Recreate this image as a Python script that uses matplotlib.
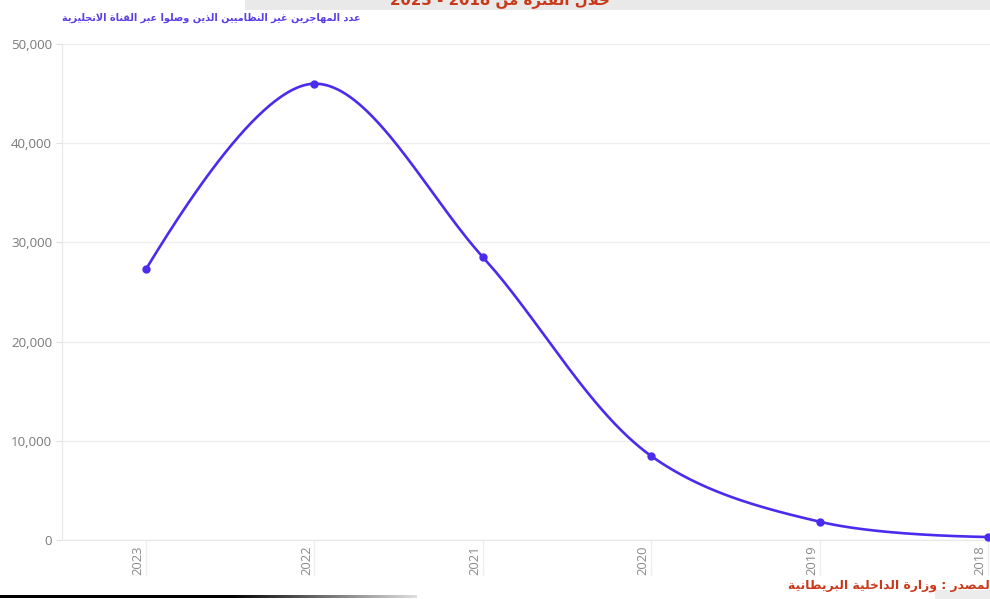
import numpy as np
import matplotlib
matplotlib.use("Agg")
import matplotlib.pyplot as plt
from matplotlib.patches import Rectangle
from matplotlib.transforms import ScaledTranslation

# ---------------- data ----------------
years = ["2023", "2022", "2021", "2020", "2019", "2018"]
arrivals = [27300, 46000, 28526, 8466, 1843, 299]
yticks = [0, 10000, 20000, 30000, 40000, 50000]
ytick_labels = ["0", "10,000", "20,000", "30,000", "40,000", "50,000"]

title_text = "خلال الفترة من 2018 - 2023"
subtitle_text = "عدد المهاجرين غير النظاميين الذين وصلوا عبر القناة الانجليزية"
source_text = "المصدر : وزارة الداخلية البريطانية"

# ---------------- minimal Arabic shaping ----------------
FORMS = {
    'ا': ('\uFE8D', '\uFE8E', None, None),
    'أ': ('\uFE83', '\uFE84', None, None),
    'إ': ('\uFE87', '\uFE88', None, None),
    'آ': ('\uFE81', '\uFE82', None, None),
    'ب': ('\uFE8F', '\uFE90', '\uFE91', '\uFE92'),
    'ة': ('\uFE93', '\uFE94', None, None),
    'ت': ('\uFE95', '\uFE96', '\uFE97', '\uFE98'),
    'ث': ('\uFE99', '\uFE9A', '\uFE9B', '\uFE9C'),
    'ج': ('\uFE9D', '\uFE9E', '\uFE9F', '\uFEA0'),
    'ح': ('\uFEA1', '\uFEA2', '\uFEA3', '\uFEA4'),
    'خ': ('\uFEA5', '\uFEA6', '\uFEA7', '\uFEA8'),
    'د': ('\uFEA9', '\uFEAA', None, None),
    'ذ': ('\uFEAB', '\uFEAC', None, None),
    'ر': ('\uFEAD', '\uFEAE', None, None),
    'ز': ('\uFEAF', '\uFEB0', None, None),
    'س': ('\uFEB1', '\uFEB2', '\uFEB3', '\uFEB4'),
    'ش': ('\uFEB5', '\uFEB6', '\uFEB7', '\uFEB8'),
    'ص': ('\uFEB9', '\uFEBA', '\uFEBB', '\uFEBC'),
    'ض': ('\uFEBD', '\uFEBE', '\uFEBF', '\uFEC0'),
    'ط': ('\uFEC1', '\uFEC2', '\uFEC3', '\uFEC4'),
    'ظ': ('\uFEC5', '\uFEC6', '\uFEC7', '\uFEC8'),
    'ع': ('\uFEC9', '\uFECA', '\uFECB', '\uFECC'),
    'غ': ('\uFECD', '\uFECE', '\uFECF', '\uFED0'),
    'ف': ('\uFED1', '\uFED2', '\uFED3', '\uFED4'),
    'ق': ('\uFED5', '\uFED6', '\uFED7', '\uFED8'),
    'ك': ('\uFED9', '\uFEDA', '\uFEDB', '\uFEDC'),
    'ل': ('\uFEDD', '\uFEDE', '\uFEDF', '\uFEE0'),
    'م': ('\uFEE1', '\uFEE2', '\uFEE3', '\uFEE4'),
    'ن': ('\uFEE5', '\uFEE6', '\uFEE7', '\uFEE8'),
    'ه': ('\uFEE9', '\uFEEA', '\uFEEB', '\uFEEC'),
    'و': ('\uFEED', '\uFEEE', None, None),
    'ى': ('\uFEEF', '\uFEF0', None, None),
    'ي': ('\uFEF1', '\uFEF2', '\uFEF3', '\uFEF4'),
}
LAM_ALEF = {'ا': ('\uFEFB', '\uFEFC'), 'أ': ('\uFEF7', '\uFEF8'),
            'إ': ('\uFEF9', '\uFEFA'), 'آ': ('\uFEF5', '\uFEF6')}


def shape_word(w):
    if not any(c in FORMS for c in w):
        return w
    out = []
    i, n = 0, len(w)
    prev_joins = False
    while i < n:
        c = w[i]
        if c not in FORMS:
            out.append(c)
            prev_joins = False
            i += 1
            continue
        if c == 'ل' and i + 1 < n and w[i + 1] in LAM_ALEF:
            out.append(LAM_ALEF[w[i + 1]][1 if prev_joins else 0])
            prev_joins = False
            i += 2
            continue
        iso, fin, ini, med = FORMS[c]
        nxt = w[i + 1] if i + 1 < n else None
        next_ok = ini is not None and nxt in FORMS
        if prev_joins and next_ok:
            f = med
        elif prev_joins:
            f = fin
        elif next_ok:
            f = ini
        else:
            f = iso
        out.append(f)
        prev_joins = next_ok
        i += 1
    return ''.join(reversed(out))


def rtl(s):
    """Logical Arabic line -> visual left-to-right glyph string."""
    return ' '.join(shape_word(w) for w in reversed(s.split(' ')))


# ---------------- figure ----------------
W, H = 990, 599
fig = plt.figure(figsize=(W / 100, H / 100), dpi=100)
fig.patch.set_facecolor("white")

x0_px, xstep = 146, 168.4
left_px = x0_px - 0.5 * xstep
right_px = x0_px + 5.5 * xstep
top_px, bottom_px = 44, 540
ax = fig.add_axes([left_px / W, (H - bottom_px) / H,
                   (right_px - left_px) / W, (bottom_px - top_px) / H])
ax.set_xlim(-0.5, 5.5)
ax.set_ylim(0, 50000)
ax.set_facecolor("white")

for s in ["top", "right"]:
    ax.spines[s].set_visible(False)
ax.spines["left"].set_color("#e8e8e8")
ax.spines["bottom"].set_color("#e8e8e8")

ax.set_yticks(yticks)
ax.set_yticklabels(ytick_labels, fontfamily="Open Sans", fontsize=9.6, color="#7a7a7a")
ax.tick_params(axis="y", length=4, color="#e0e0e0", pad=3)
ax.grid(axis="y", color="#eeeeee", linewidth=1.0)
ax.set_axisbelow(True)

xs = np.arange(len(years))
ax.set_xticks(xs)
ax.set_xticklabels(years, rotation=90, fontfamily="Open Sans", fontsize=9.4,
                   color="#8a8a8a", va="top", ha="center")
ax.tick_params(axis="x", length=25, color="#eeeeee", width=1.0, pad=-21)
for lab in ax.get_xticklabels():
    lab.set_transform(lab.get_transform() + ScaledTranslation(-0.08, 0, fig.dpi_scale_trans))

# ---------------- smooth spline (plotly style) ----------------
pts = ax.transData.transform(np.column_stack([xs, arrivals]).astype(float))


def make_tangent(p0, p1, p2, sm=1.0):
    d1 = p0 - p1
    d2 = p2 - p1
    d1a = np.hypot(*d1) ** 0.5
    d2a = np.hypot(*d2) ** 0.5
    num = (d2a * d2a * d1 - d1a * d1a * d2) * sm
    den1 = 3 * d2a * (d1a + d2a)
    den2 = 3 * d1a * (d1a + d2a)
    return p1 + num / den1, p1 - num / den2


tangents = [make_tangent(pts[i - 1], pts[i], pts[i + 1]) for i in range(1, len(pts) - 1)]
t = np.linspace(0, 1, 80)[:, None]
curve = []
c = tangents[0][0]
curve.append((1 - t) ** 2 * pts[0] + 2 * (1 - t) * t * c + t ** 2 * pts[1])
for i in range(2, len(pts) - 1):
    c1 = tangents[i - 2][1]
    c2 = tangents[i - 1][0]
    curve.append((1 - t) ** 3 * pts[i - 1] + 3 * (1 - t) ** 2 * t * c1
                 + 3 * (1 - t) * t ** 2 * c2 + t ** 3 * pts[i])
c = tangents[-1][1]
curve.append((1 - t) ** 2 * pts[-2] + 2 * (1 - t) * t * c + t ** 2 * pts[-1])
curve = np.vstack(curve)
curve_data = ax.transData.inverted().transform(curve)

line_color = "#4a2cee"
ax.plot(curve_data[:, 0], curve_data[:, 1], color=line_color, linewidth=1.9,
        solid_capstyle="round", clip_on=False, zorder=3)
ax.plot(xs, arrivals, "o", color=line_color, markersize=5, clip_on=False, zorder=4)

# ---------------- decorations ----------------
fig.add_artist(Rectangle((245 / W, 1 - 10 / H), (W - 245) / W, 10 / H,
                         transform=fig.transFigure, facecolor="#e9e9e9",
                         edgecolor="none", zorder=0))
fig.text(500 / W, 1, rtl(title_text), ha="center", va="center",
         fontsize=10.8, fontweight="bold", color="#c8391a", family=["DejaVu Sans"])

fig.text(62 / W, 1 - 18 / H, rtl(subtitle_text), ha="left", va="center",
         fontsize=7.05, fontweight="bold", color="#5a3ee6", family=["DejaVu Sans"])

fig.add_artist(Rectangle((935 / W, 0), 55 / W, 9 / H, transform=fig.transFigure,
                         facecolor="#ececec", edgecolor="none", zorder=0))
fig.text(994 / W, 1 - 585 / H, rtl(source_text), ha="right", va="center",
         fontsize=8.9, fontweight="bold", color="#c8391a", family=["DejaVu Sans"])

# bottom fading black line (gradient image)
gax = fig.add_axes([0, 1 - 598 / H, 417 / W, 3 / H])
gax.set_axis_off()
ncol = 417
g = np.where(np.arange(ncol) < 230, 0.0, (np.arange(ncol) - 230) / 187 * 0.88)
img = np.zeros((3, ncol, 4))
img[:, :, 0] = g
img[:, :, 1] = g
img[:, :, 2] = g
img[:, :, 3] = 1.0
gax.imshow(img, aspect="auto", extent=(0, 1, 0, 1), interpolation="bilinear")
gax.set_xlim(0, 1)
gax.set_ylim(0, 1)

fig.savefig("out.png", dpi=100, facecolor="white")
